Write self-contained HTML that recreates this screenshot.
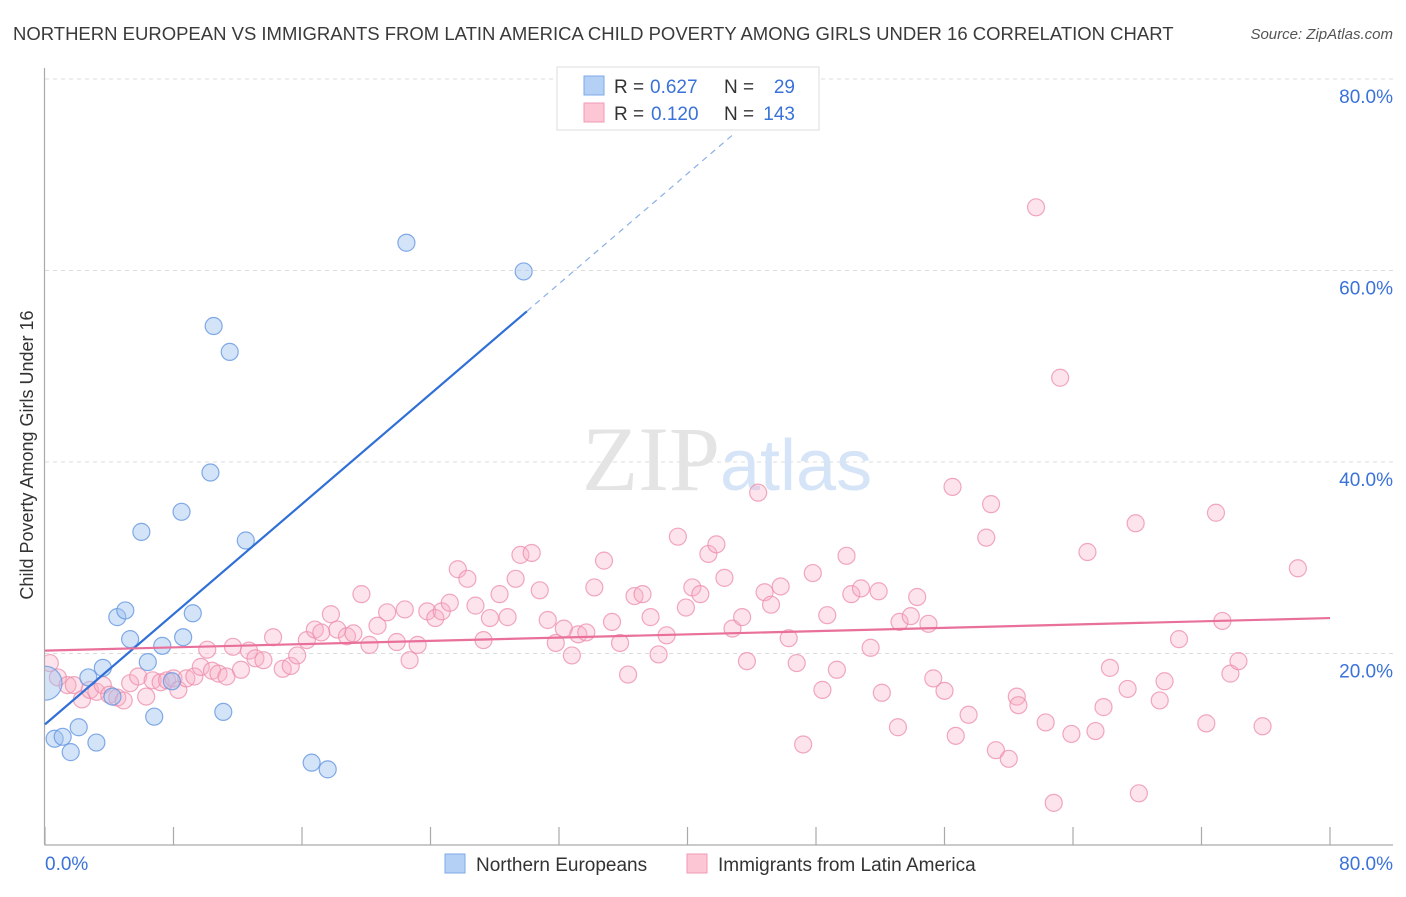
<!DOCTYPE html>
<html><head><meta charset="utf-8"><style>
body{margin:0;background:#fff;font-family:"Liberation Sans",sans-serif;}
</style></head><body>
<svg id="chart" width="1406" height="892" viewBox="0 0 1406 892" xmlns="http://www.w3.org/2000/svg" font-family="Liberation Sans, sans-serif">
<defs><clipPath id="plotclip"><rect x="45" y="60" width="1360" height="785"/></clipPath></defs>
<text x="13" y="40" font-size="18.5" fill="#3a3a3a">NORTHERN EUROPEAN VS IMMIGRANTS FROM LATIN AMERICA CHILD POVERTY AMONG GIRLS UNDER 16 CORRELATION CHART</text>
<text x="1393" y="39" font-size="15" fill="#555" font-style="italic" text-anchor="end">Source: ZipAtlas.com</text>
<g id="grid"></g>
<text x="720" y="490" font-size="92" fill="#e4e4e4" text-anchor="end" font-family="Liberation Serif, serif">ZIP</text>
<text x="720" y="490" font-size="72" fill="#d6e4f7">atlas</text>
<g id="axes"></g>
<g id="pink" clip-path="url(#plotclip)"></g>
<g id="blue" clip-path="url(#plotclip)"></g>
<g id="lines"></g>
<text transform="translate(33,455) rotate(-90)" font-size="18" fill="#333" text-anchor="middle">Child Poverty Among Girls Under 16</text>
<g>
<rect x="557" y="67" width="262" height="63" fill="#fff" stroke="#ddd"/>
<rect x="584" y="76" width="20" height="19" fill="#b5d0f5" stroke="#7ea8e6"/>
<rect x="584" y="103" width="20" height="19" fill="#fcc6d5" stroke="#f09ab4"/>
<text x="614" y="93" font-size="19" fill="#333">R =</text>
<text x="650" y="93" font-size="19" fill="#3a72d8">0.627</text>
<text x="724" y="93" font-size="19" fill="#333">N =</text>
<text x="795" y="93" font-size="19" fill="#3a72d8" text-anchor="end">29</text>
<text x="614" y="120" font-size="19" fill="#333">R =</text>
<text x="651" y="120" font-size="19" fill="#3a72d8">0.120</text>
<text x="724" y="120" font-size="19" fill="#333">N =</text>
<text x="795" y="120" font-size="19" fill="#3a72d8" text-anchor="end">143</text>
</g>
<g>
<rect x="445" y="854" width="20" height="19" fill="#b5d0f5" stroke="#7ea8e6"/>
<text x="476" y="871" font-size="19" fill="#333">Northern Europeans</text>
<rect x="687" y="854" width="20" height="19" fill="#fcc6d5" stroke="#f09ab4"/>
<text x="718" y="871" font-size="19" fill="#333">Immigrants from Latin America</text>
</g>
</svg>
<script>
const xTicks=[0,8,16,24,32,40,48,56,64,72,80];
const yTicks=[20,40,60,80];
const yTickLabels=["20.0%","40.0%","60.0%","80.0%"];
const xEndLabels=["0.0%","80.0%"];
const blueX=[0,0.6,1.1,1.6,2.1,2.7,3.2,3.6,4.2,4.5,5.0,5.3,6.0,6.4,6.8,7.3,7.9,8.5,8.6,9.2,10.3,10.5,11.1,11.5,12.5,16.6,17.6,22.5,29.8];
const blueY=[16.9,11.1,11.3,9.7,12.3,17.5,10.7,18.5,15.5,23.8,24.5,21.5,32.7,19.1,13.4,20.8,17.1,34.8,21.7,24.2,38.9,54.2,13.9,51.5,31.8,8.6,7.9,62.9,59.9];
const pinkX=[0.3,0.8,1.4,1.8,2.3,2.8,3.2,3.6,4.0,4.5,4.9,5.3,5.8,6.3,6.7,7.2,7.6,8.0,8.3,8.8,9.3,9.7,10.1,10.4,10.8,11.3,11.7,12.2,12.7,13.1,13.6,14.2,14.8,15.3,15.7,16.3,16.8,17.2,17.8,18.2,18.8,19.2,19.7,20.2,20.7,21.3,21.9,22.4,22.7,23.2,23.8,24.3,24.7,25.2,25.7,26.3,26.8,27.3,27.7,28.3,28.8,29.3,29.6,30.3,30.8,31.3,31.8,32.3,32.8,33.2,33.7,34.2,34.8,35.3,35.8,36.3,36.7,37.2,37.7,38.2,38.7,39.4,39.9,40.3,40.8,41.3,41.8,42.3,42.8,43.4,43.7,44.4,44.8,45.2,45.8,46.3,46.8,47.2,47.8,48.4,48.7,49.3,49.9,50.2,50.8,51.4,51.9,52.1,53.1,53.2,53.9,54.3,55.0,55.3,56.0,56.5,56.7,57.5,58.6,58.9,59.2,60.0,60.5,60.6,61.7,62.3,62.8,63.2,63.9,64.9,65.4,65.9,66.3,67.4,67.9,68.1,69.4,69.7,70.6,72.3,72.9,73.3,73.8,74.3,75.8,78.0];
const pinkY=[19.0,17.5,16.7,16.7,15.2,16.2,16.0,16.7,15.7,15.4,15.1,16.9,17.6,15.5,17.2,17.0,17.2,17.4,16.2,17.4,17.6,18.6,20.4,18.2,17.9,17.6,20.7,18.3,20.3,19.5,19.3,21.7,18.4,18.7,19.8,21.4,22.5,22.2,24.1,22.5,21.8,22.1,26.2,20.9,22.9,24.3,21.2,24.6,19.3,20.9,24.4,23.7,24.4,25.3,28.8,27.8,25.0,21.4,23.7,26.2,23.8,27.8,30.3,30.5,26.6,23.5,21.1,22.6,19.8,22.0,22.2,26.9,29.7,23.3,21.1,17.8,26.0,26.2,23.8,19.9,21.9,32.2,24.8,26.9,26.2,30.4,31.4,27.9,22.6,23.8,19.2,36.8,26.4,25.1,27.0,21.6,19.0,10.5,28.4,16.2,24.0,18.3,30.2,26.2,26.8,20.6,26.5,15.9,12.3,23.3,23.9,25.9,23.1,17.4,16.1,37.4,11.4,13.6,32.1,35.6,9.9,9.0,15.5,14.6,66.6,12.8,4.4,48.8,11.6,30.6,11.9,14.4,18.5,16.3,33.6,5.4,15.1,17.1,21.5,12.7,34.7,23.4,17.9,19.2,12.4,28.9];
const blueTrend=[12.6,1.438];
const pinkTrend=[20.3,23.7];

const NS="http://www.w3.org/2000/svg";
const X=v=>45+v/80*1285;
const Y=v=>845-v/80*766;
function mk(tag,attrs,parent){const e=document.createElementNS(NS,tag);for(const k in attrs)e.setAttribute(k,attrs[k]);parent.appendChild(e);return e;}
const grid=document.getElementById('grid'),axes=document.getElementById('axes');
yTicks.forEach((t,i)=>{
  const l=mk('line',{x1:45,x2:1393,y1:Y(t),y2:Y(t),stroke:'#dcdcdc','stroke-dasharray':'4,4'},grid);
  
  
  const tx=mk('text',{x:1393,y:Y(t)+24,'font-size':19,fill:'#3a72d8','text-anchor':'end'},axes);
  tx.textContent=yTickLabels[i];
  
  
});
mk('line',{x1:44.5,x2:44.5,y1:68,y2:845,stroke:'#aaa','stroke-width':1.2},axes);
mk('line',{x1:44.5,x2:1393,y1:845,y2:845,stroke:'#aaa','stroke-width':1.2},axes);
xTicks.forEach(t=>{
  const l=mk('line',{x1:X(t),x2:X(t),y1:827,y2:845,stroke:'#aaa','stroke-width':1.2},axes);
  
  
});
const xl0=mk('text',{x:45,y:870,'font-size':19,fill:'#3a72d8'},axes);xl0.textContent=xEndLabels[0];


const xl1=mk('text',{x:1393,y:870,'font-size':19,fill:'#3a72d8','text-anchor':'end'},axes);xl1.textContent=xEndLabels[1];


const pg=document.getElementById('pink');
pinkX.forEach((v,i)=>{
  const c=mk('circle',{cx:X(v),cy:Y(pinkY[i]),r:8.5,fill:'rgba(248,175,198,0.35)',stroke:'rgba(236,140,170,0.75)','stroke-width':1.2},pg);
  
  
});
const bg=document.getElementById('blue');
blueX.forEach((v,i)=>{
  const c=mk('circle',{cx:X(v),cy:Y(blueY[i]),r:i===0?17:8.5,fill:'rgba(160,195,240,0.45)',stroke:'rgba(100,150,225,0.8)','stroke-width':1.2},bg);
  
  
});
const lg=document.getElementById('lines');
const bl=mk('line',{x1:X(0),y1:Y(blueTrend[0]),x2:X(30),y2:Y(blueTrend[0]+blueTrend[1]*30),stroke:'#2f6fd6','stroke-width':2.2},lg);


const bd=mk('line',{x1:X(30),y1:Y(blueTrend[0]+blueTrend[1]*30),x2:X(43),y2:Y(blueTrend[0]+blueTrend[1]*43),stroke:'#8ab0e6','stroke-width':1.2,'stroke-dasharray':'6,5'},lg);


const pl=mk('line',{x1:X(0),y1:Y(pinkTrend[0]),x2:X(80),y2:Y(pinkTrend[1]),stroke:'#e8709a','stroke-width':2.2},lg);


</script>
</body></html>
